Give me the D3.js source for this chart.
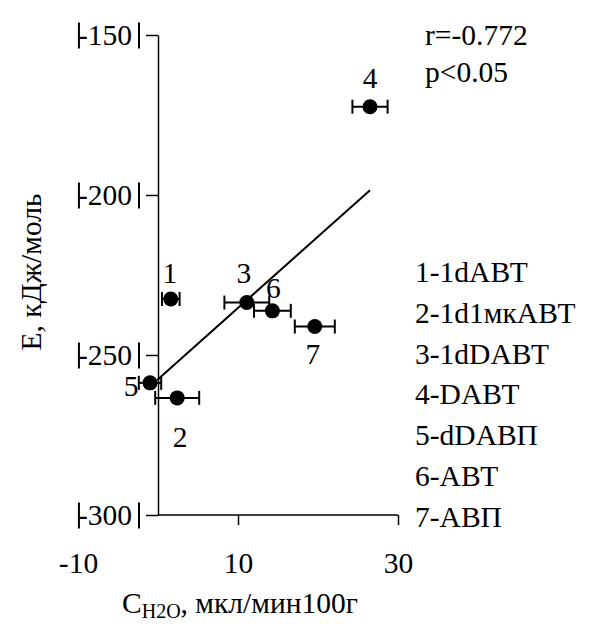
<!DOCTYPE html>
<html>
<head>
<meta charset="utf-8">
<script src="https://cdn.jsdelivr.net/npm/d3@7"></script>
<style>
  body { margin: 0; background: #fff; }
  text { font-family: "Liberation Serif", "Times New Roman", serif; fill: #000; }
</style>
</head>
<body>
<div id="chart"></div>
<script>
// values
var xTicks = [-10, 10, 30];
var yTicks = [-150, -200, -250, -300];
var pointNames = ["1", "2", "3", "4", "5", "6", "7"];
var pointX = [1.6, 2.4, 11.1, 26.5, -1.0, 14.3, 19.6];
var pointY = [-232.5, -263.4, -233.6, -172.4, -258.7, -236.2, -241.1];
var pointErr = [1.1, 2.75, 2.8, 2.2, 1.4, 2.3, 2.5];
var fitX = [-0.1, 26.5];
var fitY = [-257.8, -198.5];
var statLines = ["r=-0.772", "p<0.05"];
var legendLines = ["1-1dАВТ", "2-1d1мкАВТ", "3-1dDАВТ", "4-DАВТ", "5-dDАВП", "6-АВТ", "7-АВП"];

// label offsets from each point (px)
var labelDx = [-1, 3, -3, 0, -19, 1, -2];
var labelDy = [-26, 39, -30, -29, 3, -23, 27];

var w = 593, h = 624;
var fontSize = 29.5;
var fmt = function(d) { return String(d); };   // plain hyphen, not the unicode minus

var svg = d3.select("#chart")
  .append("svg")
  .attr("width", w)
  .attr("height", h);

var xScale = d3.scaleLinear()
  .domain([-10, 30])
  .range([78, 398]);

var yScale = d3.scaleLinear()
  .domain([-300, -150])
  .range([515, 35]);

// y axis
var yAxis = d3.axisLeft(yScale)
  .tickValues(yTicks)
  .tickSize(12)
  .tickSizeOuter(0)
  .tickPadding(14)
  .tickFormat(fmt);

var gy = svg.append("g")
  .attr("transform", "translate(" + xScale(0) + ",0)")
  .call(yAxis);
gy.selectAll("path, line").attr("stroke", "#000").attr("stroke-width", 1.5);
gy.selectAll("text")
  .style("font-size", fontSize + "px")
  .style("font-family", "'Liberation Serif', 'Times New Roman', serif")
  .attr("fill", "#000");

// the odd bars either side of each y label
gy.selectAll(".tick").each(function() {
  var t = d3.select(this);
  var txt = t.select("text");
  var len = txt.node().getComputedTextLength();
  var xEnd = +txt.attr("x");
  t.append("line")
    .attr("x1", xEnd - len + 1).attr("x2", xEnd - len + 1)
    .attr("y1", -13).attr("y2", 13)
    .attr("stroke", "#000").attr("stroke-width", 2);
  t.append("line")
    .attr("x1", xEnd + 7).attr("x2", xEnd + 7)
    .attr("y1", -13).attr("y2", 13)
    .attr("stroke", "#000").attr("stroke-width", 2);
});

// x axis
var xAxis = d3.axisBottom(xScale)
  .tickValues(xTicks)
  .tickSize(10)
  .tickSizeOuter(0)
  .tickPadding(27)
  .tickFormat(fmt);

var gx = svg.append("g")
  .attr("transform", "translate(0," + yScale(-300) + ")")
  .call(xAxis);
gx.select(".domain").remove();
gx.append("line")
  .attr("x1", xScale(0)).attr("x2", xScale(30))
  .attr("y1", 0).attr("y2", 0)
  .attr("stroke", "#000").attr("stroke-width", 1.5);
gx.selectAll(".tick line")
  .attr("stroke", "#000").attr("stroke-width", 1.5)
  .style("display", function(d) { return d < 0 ? "none" : null; });
gx.selectAll("text")
  .style("font-size", fontSize + "px")
  .style("font-family", "'Liberation Serif', 'Times New Roman', serif")
  .attr("fill", "#000");

// regression line
svg.append("path")
  .datum(d3.range(fitX.length))
  .attr("fill", "none")
  .attr("stroke", "#000")
  .attr("stroke-width", 2)
  .attr("d", d3.line()
    .x(function(i) { return xScale(fitX[i]); })
    .y(function(i) { return yScale(fitY[i]); }));

// points with horizontal error bars
var pts = svg.append("g").selectAll("g")
  .data(d3.range(pointX.length))
  .enter().append("g");

pts.append("line")
  .attr("x1", function(i) { return xScale(pointX[i] - pointErr[i]); })
  .attr("x2", function(i) { return xScale(pointX[i] + pointErr[i]); })
  .attr("y1", function(i) { return yScale(pointY[i]); })
  .attr("y2", function(i) { return yScale(pointY[i]); })
  .attr("stroke", "#000").attr("stroke-width", 2);

[-1, 1].forEach(function(s) {
  pts.append("line")
    .attr("x1", function(i) { return xScale(pointX[i] + s * pointErr[i]); })
    .attr("x2", function(i) { return xScale(pointX[i] + s * pointErr[i]); })
    .attr("y1", function(i) { return yScale(pointY[i]) - 7; })
    .attr("y2", function(i) { return yScale(pointY[i]) + 7; })
    .attr("stroke", "#000").attr("stroke-width", 2);
});

pts.append("circle")
  .attr("cx", function(i) { return xScale(pointX[i]); })
  .attr("cy", function(i) { return yScale(pointY[i]); })
  .attr("r", 7.5)
  .attr("fill", "#000");

pts.append("text")
  .attr("x", function(i) { return xScale(pointX[i]) + labelDx[i]; })
  .attr("y", function(i) { return yScale(pointY[i]) + labelDy[i]; })
  .attr("dy", "0.35em")
  .attr("text-anchor", "middle")
  .style("font-size", fontSize + "px")
  .text(function(i) { return pointNames[i]; });

// r / p
svg.append("g").selectAll("text")
  .data(statLines)
  .enter().append("text")
  .attr("x", 425)
  .attr("y", function(d, i) { return 45 + i * 37; })
  .style("font-size", fontSize + "px")
  .text(function(d) { return d; });

// legend of sample names
svg.append("g").selectAll("text")
  .data(legendLines)
  .enter().append("text")
  .attr("x", 415)
  .attr("y", function(d, i) { return 282 + i * 40.8; })
  .style("font-size", fontSize + "px")
  .text(function(d) { return d; });

// axis titles
var xt = svg.append("text")
  .attr("x", 122)
  .attr("y", 613)
  .style("font-size", fontSize + "px");
xt.append("tspan").text("C");
xt.append("tspan").attr("dy", 5).style("font-size", "20px").text("H2O");
xt.append("tspan").attr("dy", -5).text(", мкл/мин100г");

svg.append("text")
  .attr("transform", "translate(41," + 272 + ") rotate(-90)")
  .attr("text-anchor", "middle")
  .style("font-size", fontSize + "px")
  .text("E, кДж/моль");
</script>
</body>
</html>
